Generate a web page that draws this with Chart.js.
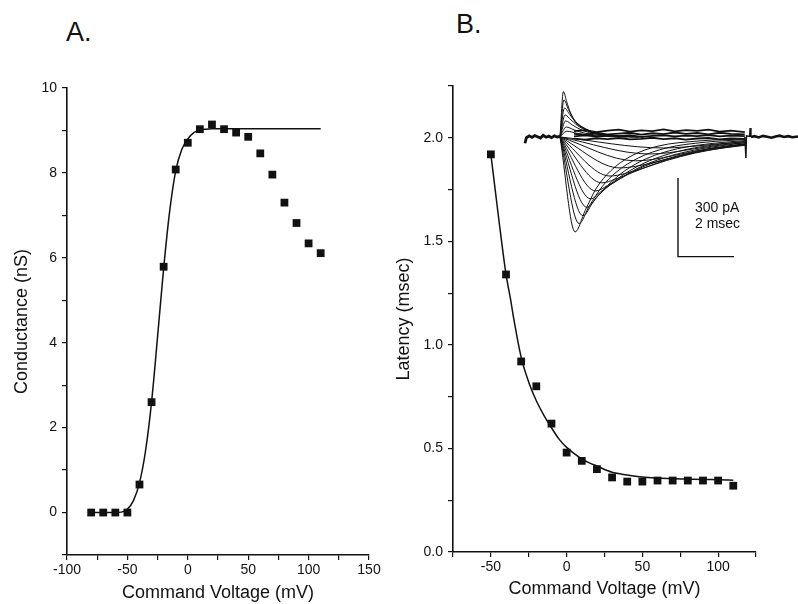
<!DOCTYPE html>
<html>
<head>
<meta charset="utf-8">
<title>Conductance and latency vs command voltage</title>
<script src="https://cdn.jsdelivr.net/npm/chart.js@4"></script>
<style>
  html, body { margin: 0; padding: 0; background: #fff; }
  #wrap { position: relative; width: 798px; height: 604px; overflow: hidden; font-family: 'Liberation Sans', Arial, sans-serif; }
  #wrap canvas { position: absolute; }
  .panel-tag { position: absolute; font-size: 27px; color: #111; line-height: 31px; }
</style>
</head>
<body>
<div id="wrap">
  <div class="panel-tag" style="left:66px; top:17px;">A.</div>
  <div class="panel-tag" style="left:456px; top:9px;">B.</div>
  <canvas id="chart-a" style="left:0; top:0;" width="390" height="604"></canvas>
  <canvas id="chart-b" style="left:390px; top:0;" width="408" height="604"></canvas>
  <canvas id="chart-traces" style="left:520px; top:80px;" width="278" height="190"></canvas>
</div>

<script>
/* ---------- Panel A: conductance vs command voltage ---------- */
const voltageA = [-80, -70, -60, -50, -40, -30, -20, -10, 0, 10, 20, 30, 40, 50, 60, 70, 80, 90, 100, 110];
const conductance = [0, 0, 0, 0, 0.66, 2.60, 5.79, 8.08, 8.71, 9.03, 9.14, 9.03, 8.95, 8.85, 8.46, 7.96, 7.30, 6.82, 6.34, 6.11];

// Boltzmann fit line
const fitVoltageA = [-80, -70, -60, -55, -50, -45, -40, -35, -30, -25, -20, -15, -10, -5, 0, 5, 10, 15, 20, 30, 50, 80, 110];
const fitConductance = [0, 0, 0, 0.01, 0.08, 0.28, 0.70, 1.45, 2.60, 4.15, 5.75, 7.10, 8.05, 8.55, 8.80, 8.95, 9.01, 9.03, 9.04, 9.04, 9.04, 9.04, 9.04];

const ticksA = { xMin: -100, xMax: 150, xStep: 25, xLabelEvery: 50, yMin: -1, yMax: 10, yStep: 1, yLabelEvery: 2 };

/* ---------- Panel B: latency vs command voltage ---------- */
const voltageB = [-50, -40, -30, -20, -10, 0, 10, 20, 30, 40, 50, 60, 70, 80, 90, 100, 110];
const latency = [1.92, 1.34, 0.92, 0.80, 0.62, 0.48, 0.44, 0.40, 0.36, 0.34, 0.34, 0.345, 0.345, 0.345, 0.345, 0.345, 0.32];

// exponential fit line
const fitVoltageB = [-50, -45, -40, -37, -35, -30, -25, -20, -15, -10, -5, 0, 5, 10, 15, 20, 30, 40, 50, 60, 70, 80, 90, 100, 110];
const fitLatency = [1.92, 1.62, 1.34, 1.22, 1.13, 0.94, 0.82, 0.73, 0.66, 0.60, 0.545, 0.505, 0.475, 0.45, 0.43, 0.415, 0.385, 0.372, 0.362, 0.357, 0.354, 0.352, 0.35, 0.349, 0.347];

const ticksB = { xMin: -75, xMax: 125, xStep: 25, xLabelEvery: 50, yMin: 0, yMax: 2.25, yStep: 0.25, yLabelEvery: 0.5 };

/* ---------- Inset: current sweeps (t in msec, I in pA) ---------- */
// inward sweeps, onset at t = 0
const inwardSweeps = [
  [[0, 0], [0.54, -362], [0.9, -280], [1.3, -195], [1.8, -130], [2.5, -75], [3.5, -35], [5.0, -15], [6.6, -6]],
  [[0, 0], [0.68, -330], [1.05, -262], [1.5, -190], [2.0, -135], [2.8, -80], [3.8, -42], [5.2, -20], [6.6, -10]],
  [[0, 0], [0.82, -300], [1.2, -245], [1.7, -185], [2.3, -130], [3.1, -82], [4.2, -45], [5.5, -24], [6.6, -14]],
  [[0, 0], [0.96, -268], [1.35, -225], [1.9, -172], [2.6, -122], [3.4, -82], [4.5, -48], [5.7, -28], [6.6, -18]],
  [[0, 0], [1.1, -236], [1.5, -205], [2.1, -162], [2.8, -118], [3.7, -80], [4.8, -50], [6.0, -30], [6.6, -22]],
  [[0, 0], [1.28, -206], [1.7, -185], [2.3, -150], [3.0, -112], [4.0, -78], [5.0, -52], [6.0, -35], [6.6, -28]],
  [[0, 0], [1.5, -175], [1.95, -162], [2.6, -135], [3.4, -102], [4.3, -72], [5.3, -50], [6.6, -32]],
  [[0, 0], [1.79, -149], [2.3, -140], [3.0, -118], [3.8, -90], [4.8, -62], [5.8, -42], [6.6, -30]],
  [[0, 0], [2.14, -118], [2.7, -112], [3.4, -96], [4.3, -72], [5.3, -48], [6.6, -28]],
  [[0, 0], [2.7, -91], [3.3, -86], [4.1, -70], [5.0, -50], [6.0, -34], [6.6, -26]],
  [[0, 0], [3.2, -65], [3.9, -60], [4.8, -45], [5.8, -30], [6.6, -22]],
  [[0, 0], [3.7, -42], [4.5, -38], [5.5, -28], [6.6, -18]]
];

// outward transients
const outwardSweeps = [
  [[0, 0], [0.12, 173], [0.24, 134], [0.36, 96], [0.54, 58], [0.82, 34], [1.18, 15], [1.8, 4], [2.6, 0]],
  [[0, 0], [0.14, 141], [0.3, 105], [0.55, 60], [0.9, 32], [1.3, 14], [2.0, 4], [2.8, 0]],
  [[0, 0], [0.16, 110], [0.35, 85], [0.6, 52], [1.0, 26], [1.5, 10], [2.2, 3], [3.0, 0]],
  [[0, 0], [0.18, 84], [0.4, 64], [0.7, 38], [1.1, 20], [1.7, 7], [2.4, 2], [3.0, 0]],
  [[0, 0], [0.2, 61], [0.45, 45], [0.8, 25], [1.3, 12], [2.0, 4], [2.8, 0]],
  [[0, 0], [0.22, 38], [0.5, 27], [0.9, 14], [1.5, 5], [2.2, 1], [2.8, 0]],
  [[0, 0], [0.24, 22], [0.6, 14], [1.1, 6], [1.8, 1], [2.4, 0]]
];

// holding baseline before the step
const preStepTime = [-1.25, -1.2, -1.1, -1.0, -0.9, -0.8, -0.7, -0.6, -0.5, -0.4, -0.3, -0.2, -0.1, 0];
const preStepCurrent = [-24, -3, 4, -2, 5, 1, -4, 6, -1, 3, -3, 4, 0, 2];

// noisy baseline band during the step
const bandTime = [0.5, 0.9, 1.3, 1.7, 2.1, 2.5, 2.9, 3.3, 3.7, 4.1, 4.5, 4.9, 5.3, 5.7, 6.1, 6.6];
const bandCurrent = [
  [22, 26, 18, 24, 28, 20, 25, 22, 29, 21, 26, 23, 28, 20, 24, 18],
  [12, 8, 15, 10, 13, 16, 9, 14, 11, 17, 12, 15, 10, 16, 12, 10],
  [2, 6, 1, 5, 3, 7, 0, 4, 6, 2, 5, 3, 7, 2, 5, 3],
  [-6, -10, -5, -8, -4, -9, -7, -3, -8, -5, -10, -6, -4, -9, -6, -7]
];

// step-off artefact and trailing baseline
const artefactTime = [6.6, 6.64, 6.66, 6.77, 6.79, 6.82];
const artefactCurrent = [0, -80, 4, 2, 34, 0];
const postStepTime = [6.82, 6.95, 7.1, 7.25, 7.4, 7.55, 7.7, 7.85, 8.0, 8.15, 8.3, 8.5];
const postStepCurrent = [0, 3, -2, 4, 1, -3, 2, 5, 0, 3, -1, 2];

// calibration bar: 300 pA / 2 msec
const barTime = [4.214, 4.214, 6.214];
const barCurrent = [-156, -456, -456];

const INK = '#111';
const FONT = "'Liberation Sans', Arial, sans-serif";

function pairs(xs, ys) {
  return xs.map((x, i) => ({ x: x, y: ys[i] }));
}

function axis(min, max, step, labelEvery, fmt, fixedSize, isX, titleText, titlePad) {
  return {
    type: 'linear',
    min: min,
    max: max,
    ticks: {
      stepSize: step,
      autoSkip: false,
      maxRotation: 0,
      color: INK,
      font: { family: FONT, size: 14 },
      padding: isX ? 2 : 5,
      callback: (v) => {
        const r = v / labelEvery;
        return Math.abs(r - Math.round(r)) < 1e-6 ? fmt(v) : '';
      }
    },
    grid: { drawOnChartArea: false, drawTicks: true, tickLength: 5, color: INK, tickColor: INK, lineWidth: 1.2 },
    border: { display: true, color: INK, width: 1.6 },
    title: {
      display: true,
      text: titleText,
      color: INK,
      font: { family: FONT, size: 18 },
      padding: titlePad
    },
    afterFit: (s) => {
      if (isX) s.height = fixedSize;
      else s.width = fixedSize;
    }
  };
}

function curveChart(canvasId, xs, ys, fitX, fitY, t, pad, yWidth, xHeight, xTitle, yTitle, yFmt, yTitlePad, xTitlePad) {
  return new Chart(document.getElementById(canvasId), {
    type: 'scatter',
    data: {
      datasets: [
        {
          data: pairs(fitX, fitY),
          showLine: true,
          borderColor: INK,
          borderWidth: 1.5,
          pointRadius: 0,
          cubicInterpolationMode: 'monotone'
        },
        {
          data: pairs(xs, ys),
          showLine: false,
          pointStyle: 'rect',
          pointRadius: 5.5,
          backgroundColor: INK,
          borderColor: INK,
          borderWidth: 0
        }
      ]
    },
    options: {
      responsive: false,
      animation: false,
      layout: { padding: pad },
      plugins: { legend: { display: false }, tooltip: { enabled: false } },
      scales: {
        x: axis(t.xMin, t.xMax, t.xStep, t.xLabelEvery, (v) => String(v), xHeight, true, xTitle, xTitlePad),
        y: axis(t.yMin, t.yMax, t.yStep, t.yLabelEvery, yFmt, yWidth, false, yTitle, yTitlePad)
      }
    }
  });
}

curveChart('chart-a', voltageA, conductance, fitVoltageA, fitConductance, ticksA,
  { top: 88, right: 21, left: 0, bottom: 0 }, 67, 49,
  'Command Voltage (mV)', 'Conductance (nS)', (v) => String(v),
  { top: 11, bottom: 0 }, { top: 0, bottom: 0 });

curveChart('chart-b', voltageB, latency, fitVoltageB, fitLatency, ticksB,
  { top: 86, right: 42, left: 0, bottom: 0 }, 63, 52,
  'Command Voltage (mV)', 'Latency (msec)', (v) => v.toFixed(1),
  { top: 3, bottom: 0 }, { top: 0, bottom: 4 });

/* ---------- inset sweeps ---------- */
const sweepSets = [];
inwardSweeps.concat(outwardSweeps).forEach((sw) => {
  sweepSets.push({
    data: sw.map((p) => ({ x: p[0], y: p[1] })),
    borderColor: INK,
    borderWidth: 1,
    cubicInterpolationMode: 'monotone'
  });
});
bandCurrent.forEach((row) => {
  sweepSets.push({ data: pairs(bandTime, row), borderColor: INK, borderWidth: 1.8 });
});
sweepSets.push({ data: pairs(preStepTime, preStepCurrent), borderColor: INK, borderWidth: 2.8 });
sweepSets.push({ data: pairs(artefactTime, artefactCurrent), borderColor: INK, borderWidth: 1.4 });
sweepSets.push({ data: pairs(postStepTime, postStepCurrent), borderColor: INK, borderWidth: 2.6 });
sweepSets.push({ data: pairs(barTime, barCurrent), borderColor: INK, borderWidth: 1.4 });

const calibrationText = {
  id: 'calibrationText',
  afterDatasetsDraw(chart) {
    const { ctx, scales } = chart;
    ctx.save();
    ctx.fillStyle = INK;
    ctx.font = '14px ' + FONT;
    ctx.textBaseline = 'middle';
    ctx.fillText('300 pA', scales.x.getPixelForValue(4.82), scales.y.getPixelForValue(-270));
    ctx.fillText('2 msec', scales.x.getPixelForValue(4.82), scales.y.getPixelForValue(-331));
    ctx.restore();
  }
};

new Chart(document.getElementById('chart-traces'), {
  type: 'scatter',
  data: { datasets: sweepSets.map((d) => Object.assign({ showLine: true, pointRadius: 0, clip: false }, d)) },
  options: {
    responsive: false,
    animation: false,
    layout: { padding: 0 },
    plugins: { legend: { display: false }, tooltip: { enabled: false } },
    scales: {
      x: { type: 'linear', display: false, min: -1.4286, max: 8.5 },
      y: { type: 'linear', display: false, min: -507, max: 217 }
    }
  },
  plugins: [calibrationText]
});
</script>
</body>
</html>
